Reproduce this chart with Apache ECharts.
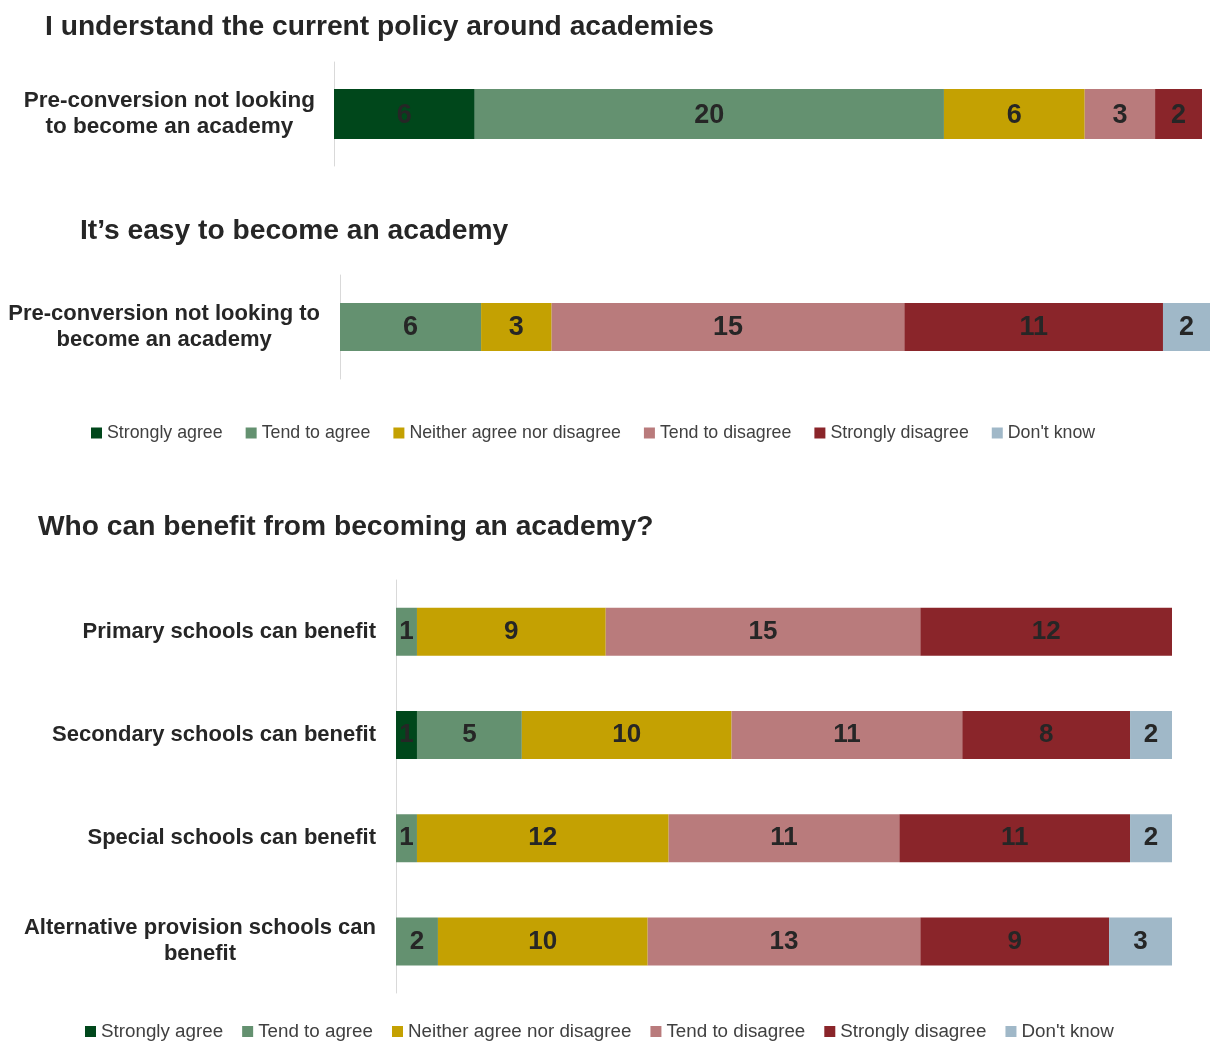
<!DOCTYPE html>
<html>
<head>
<meta charset="utf-8">
<script src="https://cdn.jsdelivr.net/npm/echarts@6/dist/echarts.min.js"></script>
<style>
html,body{margin:0;padding:0;background:#fff;}
#chart{width:1210px;height:1041px;}
</style>
</head>
<body>
<div id="chart"></div>
<script>
// ---- data ----
const responses = ['Strongly agree', 'Tend to agree', 'Neither agree nor disagree', 'Tend to disagree', 'Strongly disagree', "Don't know"];
const colors = ['#00471b', '#649170', '#c4a102', '#b97b7c', '#8a252a', '#a0b8c8'];

const titles = ['I understand the current policy around academies', 'It\u2019s easy to become an academy', 'Who can benefit from becoming an academy?'];

const understandCategories = ['Pre-conversion not looking\nto become an academy'];
const understandValues = [6, 20, 6, 3, 2, 0];

const easyCategories = ['Pre-conversion not looking to\nbecome an academy'];
const easyValues = [0, 6, 3, 15, 11, 2];

const benefitCategories = ['Primary schools can benefit', 'Secondary schools can benefit', 'Special schools can benefit', 'Alternative provision schools can\nbenefit'];
const benefitStronglyAgree = [0, 1, 0, 0];
const benefitTendAgree = [1, 5, 1, 2];
const benefitNeither = [9, 10, 12, 10];
const benefitTendDisagree = [15, 11, 11, 13];
const benefitStronglyDisagree = [12, 8, 11, 9];
const benefitDontKnow = [0, 2, 2, 3];
const benefitValues = [benefitStronglyAgree, benefitTendAgree, benefitNeither, benefitTendDisagree, benefitStronglyDisagree, benefitDontKnow];

const totalMax = 37;

// ---- chart ----
const FONT = '"Liberation Sans", Arial, sans-serif';
const textColor = '#262626';

function catLabel(margin, size) {
  return {
    fontFamily: FONT, fontWeight: 'bold', fontSize: size, color: textColor, margin: margin,
    lineHeight: 26,
    formatter: v => v.split('\n').map(l => '{c|' + l + '}').join('\n'),
    rich: { c: { align: 'center', fontFamily: FONT, fontWeight: 'bold', fontSize: size, color: textColor, lineHeight: 26 } }
  };
}

const grids = [
  { left: 334, right: 8, top: 62, height: 104 },
  { left: 340, right: 0, top: 275, height: 104 },
  { left: 396, right: 38, top: 580, height: 413 }
];
const labelSizes = [22.5, 22, 22];
const xAxes = grids.map((g, i) => ({ type: 'value', gridIndex: i, min: 0, max: totalMax, show: false }));
const yCats = [understandCategories, easyCategories, benefitCategories];
const yAxes = yCats.map((cats, i) => ({
  type: 'category', gridIndex: i, data: cats, inverse: true,
  axisLine: { show: true, lineStyle: { color: '#d9d9d9', width: 1 } },
  axisTick: { show: false }, splitLine: { show: false },
  axisLabel: catLabel(i === 0 ? 19 : 20, labelSizes[i])
}));

function labelStyle(size, dy) {
  return {
    show: true, position: 'inside', fontFamily: FONT, fontWeight: 'bold', fontSize: size, color: textColor,
    offset: [0, dy],
    formatter: p => (p.value ? p.value : '')
  };
}

const series = [];
responses.forEach((name, k) => {
  series.push({
    name: name, type: 'bar', stack: 's0', xAxisIndex: 0, yAxisIndex: 0, barWidth: 50,
    itemStyle: { color: colors[k] }, label: labelStyle(27, 2),
    data: [understandValues[k] || null]
  });
  series.push({
    name: name, type: 'bar', stack: 's1', xAxisIndex: 1, yAxisIndex: 1, barWidth: 48,
    itemStyle: { color: colors[k] }, label: labelStyle(27, 1),
    data: [easyValues[k] || null]
  });
  series.push({
    name: name, type: 'bar', stack: 's2', xAxisIndex: 2, yAxisIndex: 2, barWidth: 48,
    itemStyle: { color: colors[k] }, label: labelStyle(26, 0),
    data: benefitValues[k].map(v => v || null)
  });
});

const legendBase = {
  data: responses, icon: 'rect', itemWidth: 11, itemHeight: 11, selectedMode: false
};

const titleStyle = { fontFamily: FONT, fontWeight: 'bold', fontSize: 28.2, color: textColor };

const option = {
  backgroundColor: '#fff',
  animation: false,
  color: colors,
  title: [
    { text: titles[0], left: 40, top: 8, textStyle: titleStyle },
    { text: titles[1], left: 75, top: 212, textStyle: titleStyle },
    { text: titles[2], left: 33, top: 508, textStyle: titleStyle }
  ],
  legend: [
    Object.assign({}, legendBase, { left: 86, top: 419, itemGap: 23, textStyle: { fontFamily: FONT, color: '#404040', fontSize: 17.8 } }),
    Object.assign({}, legendBase, { left: 80, top: 1017, itemGap: 19, textStyle: { fontFamily: FONT, color: '#404040', fontSize: 18.8 } })
  ],
  grid: grids,
  xAxis: xAxes,
  yAxis: yAxes,
  series: series
};

const chart = echarts.init(document.getElementById('chart'), null, { renderer: 'canvas' });
chart.setOption(option);
</script>
</body>
</html>
